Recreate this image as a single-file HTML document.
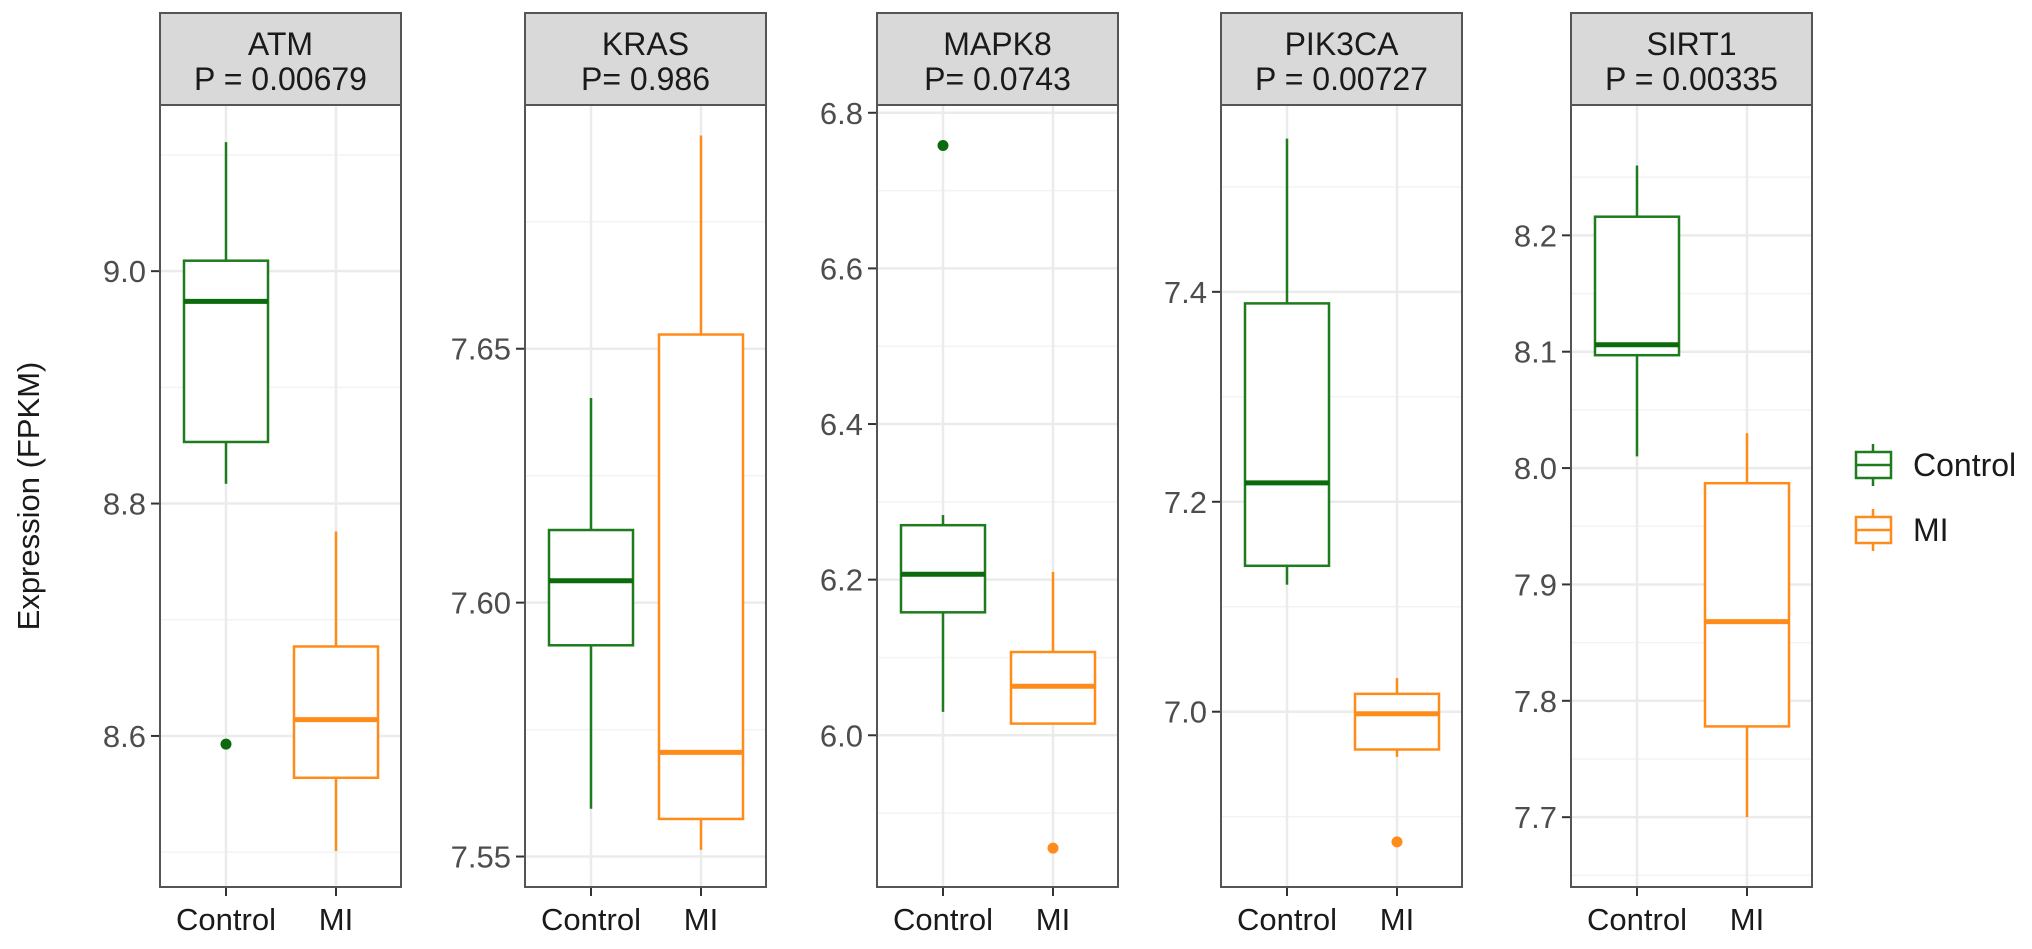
<!DOCTYPE html>
<html><head><meta charset="utf-8">
<style>
html,body{margin:0;padding:0;background:#fff;}
svg text{font-family:"Liberation Sans",Arial,sans-serif;}
</style></head>
<body>
<svg id="chart" width="2032" height="944" viewBox="0 0 2032 944" xmlns="http://www.w3.org/2000/svg">
<text x="0" y="0" transform="translate(39,496) rotate(-90)" text-anchor="middle" font-size="31" fill="#1a1a1a">Expression (FPKM)</text>
<g>
  <g>
    <line x1="1873" y1="444" x2="1873" y2="486" stroke="#1e7b1e" stroke-width="2.5"/>
    <rect x="1856" y="452" width="35" height="26" fill="#fff" stroke="#1e7b1e" stroke-width="2.5"/>
    <line x1="1856" y1="465" x2="1891" y2="465" stroke="#1e7b1e" stroke-width="2.5"/>
    <text x="1913" y="476" font-size="32" fill="#1a1a1a">Control</text>
  </g>
  <g>
    <line x1="1873" y1="509" x2="1873" y2="551" stroke="#ff8c1a" stroke-width="2.5"/>
    <rect x="1856" y="517" width="35" height="26" fill="#fff" stroke="#ff8c1a" stroke-width="2.5"/>
    <line x1="1856" y1="530" x2="1891" y2="530" stroke="#ff8c1a" stroke-width="2.5"/>
    <text x="1913" y="541" font-size="32" fill="#1a1a1a">MI</text>
  </g>
</g>
</svg>
<script>
const genes = ["ATM","KRAS","MAPK8","PIK3CA","SIRT1"];
const pLabels = ["P = 0.00679","P= 0.986","P= 0.0743","P = 0.00727","P = 0.00335"];
const groups = ["Control","MI"];
const yDomains = [[8.470,9.143],[7.544,7.698],[5.805,6.81],[6.833,7.578],[7.640,8.312]];
const yTicks = [[8.6,8.8,9.0],[7.55,7.60,7.65],[6.0,6.2,6.4,6.6,6.8],[7.0,7.2,7.4],[7.7,7.8,7.9,8.0,8.1,8.2]];
const yTickLabels = [["8.6","8.8","9.0"],["7.55","7.60","7.65"],["6.0","6.2","6.4","6.6","6.8"],["7.0","7.2","7.4"],["7.7","7.8","7.9","8.0","8.1","8.2"]];
// [lowerWhisker, Q1, median, Q3, upperWhisker]
const controlStats = [[8.817,8.853,8.974,9.009,9.111],[7.5594,7.5916,7.6043,7.6143,7.6403],[6.03,6.158,6.207,6.27,6.283],[7.121,7.139,7.218,7.389,7.546],[8.01,8.097,8.106,8.216,8.26]];
const miStats = [[8.501,8.564,8.614,8.677,8.776],[7.5513,7.5574,7.5705,7.6528,7.692],[6.015,6.015,6.063,6.107,6.21],[6.957,6.964,6.998,7.017,7.032],[7.70,7.778,7.868,7.987,8.03]];
const controlOutliers = [[8.593],[],[6.758],[],[]];
const miOutliers = [[],[],[5.855],[6.876],[]];
</script>
<script>
const svg = document.getElementById('chart');
const NS = 'http://www.w3.org/2000/svg';
const panelLeft = [160,525,877,1221,1571];
const panelW = 241, plotTop = 105, plotBot = 887, headTop = 13;
const colors = ["#1e7b1e","#ff8c1a"];
function mk(tag, attrs, parent){const e=document.createElementNS(NS,tag);for(const k in attrs)e.setAttribute(k,attrs[k]);(parent||svg).appendChild(e);return e;}
genes.forEach((g,i)=>{
  const L = panelLeft[i], R = L+panelW;
  const [d0,d1] = yDomains[i];
  const y = v => plotBot - (v-d0)/(d1-d0)*(plotBot-plotTop);
  const xPos = [L+66, L+176];
  const panel = mk('g',{});
  
  
  mk('rect',{x:L,y:plotTop,width:panelW,height:plotBot-plotTop,fill:'#fff'},panel);
  const tk = yTicks[i];
  const step = tk[1]-tk[0];
  for(let v=tk[0]-step/2; v<=d1; v+=step){ if(v>=d0){ const gl=mk('line',{x1:L,x2:R,y1:y(v),y2:y(v),stroke:'#f3f3f3','stroke-width':1.5},panel);   } }
  tk.forEach((v,j)=>{
    const gl=mk('line',{x1:L,x2:R,y1:y(v),y2:y(v),stroke:'#ebebeb','stroke-width':2.5},panel);
    
    
    mk('line',{x1:L-9,x2:L,y1:y(v),y2:y(v),stroke:'#333','stroke-width':2},panel);
    const t=mk('text',{x:L-14,y:y(v)+11,'text-anchor':'end','font-size':31,fill:'#4d4d4d'},panel);
    t.textContent = yTickLabels[i][j];
    
    
  });
  xPos.forEach((x,k)=>{
    const vl=mk('line',{x1:x,x2:x,y1:plotTop,y2:plotBot,stroke:'#ebebeb','stroke-width':2.5},panel);
    
    
    mk('line',{x1:x,x2:x,y1:plotBot,y2:plotBot+9,stroke:'#333','stroke-width':2},panel);
    const t=mk('text',{x:x,y:plotBot+43,'text-anchor':'middle','font-size':31,fill:'#1a1a1a'},panel);
    t.textContent = groups[k];
    
    
  });
  [controlStats[i], miStats[i]].forEach((s,k)=>{
    const x = xPos[k], c = colors[k], hw = 42;
    const box = mk('g',{},panel);
    
    
    mk('line',{x1:x,x2:x,y1:y(s[3]),y2:y(s[4]),stroke:c,'stroke-width':2.5},box);
    mk('line',{x1:x,x2:x,y1:y(s[1]),y2:y(s[0]),stroke:c,'stroke-width':2.5},box);
    mk('rect',{x:x-hw,y:y(s[3]),width:2*hw,height:y(s[1])-y(s[3]),fill:'#fff',stroke:c,'stroke-width':2.5},box);
    mk('line',{x1:x-hw,x2:x+hw,y1:y(s[2]),y2:y(s[2]),stroke:k==0?'#0b6a0b':c,'stroke-width':5},box);
  });
  [controlOutliers[i], miOutliers[i]].forEach((arr,k)=>{
    arr.forEach(v=>{
      const p=mk('circle',{cx:xPos[k],cy:y(v),r:5.5,fill:k==0?'#0b6a0b':colors[k]},panel);
      
      
    });
  });
  mk('rect',{x:L,y:plotTop,width:panelW,height:plotBot-plotTop,fill:'none',stroke:'#555','stroke-width':2},panel);
  const hd=mk('g',{},panel);
  
  
  mk('rect',{x:L,y:headTop,width:panelW,height:plotTop-headTop,fill:'#d9d9d9',stroke:'#555','stroke-width':2},hd);
  const t1=mk('text',{x:L+panelW/2,y:55,'text-anchor':'middle','font-size':32,fill:'#1a1a1a'},hd);
  t1.textContent=g;
  const t2=mk('text',{x:L+panelW/2,y:90,'text-anchor':'middle','font-size':32,fill:'#1a1a1a'},hd);
  t2.textContent=pLabels[i];
});
</script>
</body></html>
